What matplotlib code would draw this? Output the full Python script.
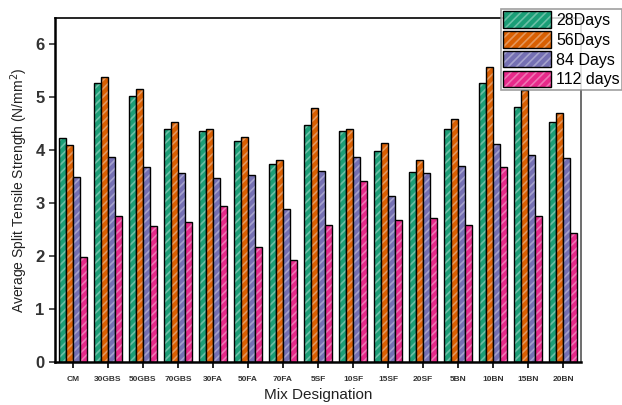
import numpy as np
import matplotlib
matplotlib.use("Agg")
import matplotlib.pyplot as plt
from matplotlib.patches import Patch
from matplotlib.legend_handler import HandlerTuple
from matplotlib.colors import to_rgb

plt.rcParams['font.family'] = ['Liberation Sans', 'DejaVu Sans']
plt.rcParams['hatch.linewidth'] = 1.2

mixes = ['CM', '30GBS', '50GBS', '70GBS', '30FA', '50FA', '70FA', '5SF',
         '10SF', '15SF', '20SF', '5BN', '10BN', '15BN', '20BN']
days28 = [4.23, 5.27, 5.03, 4.41, 4.37, 4.18, 3.74, 4.48, 4.37, 3.99, 3.59, 4.41, 5.28, 4.82, 4.53]
days56 = [4.10, 5.39, 5.16, 4.54, 4.41, 4.26, 3.82, 4.79, 4.41, 4.14, 3.81, 4.60, 5.57, 5.14, 4.71]
days84 = [3.49, 3.87, 3.68, 3.57, 3.48, 3.53, 2.89, 3.60, 3.88, 3.13, 3.57, 3.70, 4.12, 3.92, 3.85]
days112 = [1.99, 2.76, 2.57, 2.65, 2.94, 2.18, 1.92, 2.59, 3.42, 2.69, 2.73, 2.59, 3.68, 2.75, 2.43]
series_names = ['28Days', '56Days', '84 Days', '112 days']

colors = ['#1b9e77', '#d95f02', '#7570b3', '#e7298a']


def lighter(c, amt=0.35):
    r, g, b = to_rgb(c)
    return (r + (1 - r) * amt, g + (1 - g) * amt, b + (1 - b) * amt)


fig = plt.figure(figsize=(6.22, 4.05), dpi=100)
ax = fig.add_axes([55 / 622, 1 - 362 / 405, 526 / 622, 344 / 405])

x = np.arange(len(mixes))
w = 0.2
all_series = [days28, days56, days84, days112]
for i, vals in enumerate(all_series):
    pos = x + (i - 1.5) * w
    ax.bar(pos, vals, w, color=colors[i], edgecolor=lighter(colors[i]),
           hatch='////', linewidth=0)
    ax.bar(pos, vals, w, fill=False, edgecolor='black', linewidth=1.0)

ax.set_xlim(-0.51, 14.51)
ax.set_ylim(0, 6.5)
ax.set_yticks(range(0, 7))
ax.set_xticks(x)
ax.set_xticklabels(mixes, fontsize=6, fontweight='bold', color='#333333')
ax.tick_params(axis='y', labelsize=12, colors='#333333', direction='out', length=4, width=1.2)
ax.tick_params(axis='x', direction='out', length=4, width=1.2, pad=6)
for lab in ax.get_yticklabels():
    lab.set_fontweight('bold')

for side in ['left', 'bottom']:
    ax.spines[side].set_linewidth(1.8)
ax.spines['top'].set_linewidth(1.2)
ax.spines['right'].set_linewidth(1.2)
ax.spines['right'].set_color('#555555')

ax.set_ylabel('Average Split Tensile Strength (N/mm$^2$)', fontsize=10, color='#222222')
ax.set_xlabel('Mix Designation', fontsize=11, color='#222222', labelpad=4)

handles = [(Patch(facecolor=colors[i], edgecolor=lighter(colors[i]), hatch='////', linewidth=0),
            Patch(fill=False, edgecolor='black', linewidth=1.0))
           for i in range(4)]
leg = fig.legend(handles, series_names, loc='upper right',
                 bbox_to_anchor=(1.0, 1 - 9 / 405), fontsize=11.5,
                 handler_map={tuple: HandlerTuple(ndivide=1, pad=0)},
                 frameon=True, fancybox=False, edgecolor='#888888',
                 handlelength=3.0, handleheight=1.2, handletextpad=0.3,
                 labelspacing=0.2, borderpad=0.15, borderaxespad=0.0)
leg.get_frame().set_linewidth(1.2)

fig.savefig('out.png', dpi=100)
